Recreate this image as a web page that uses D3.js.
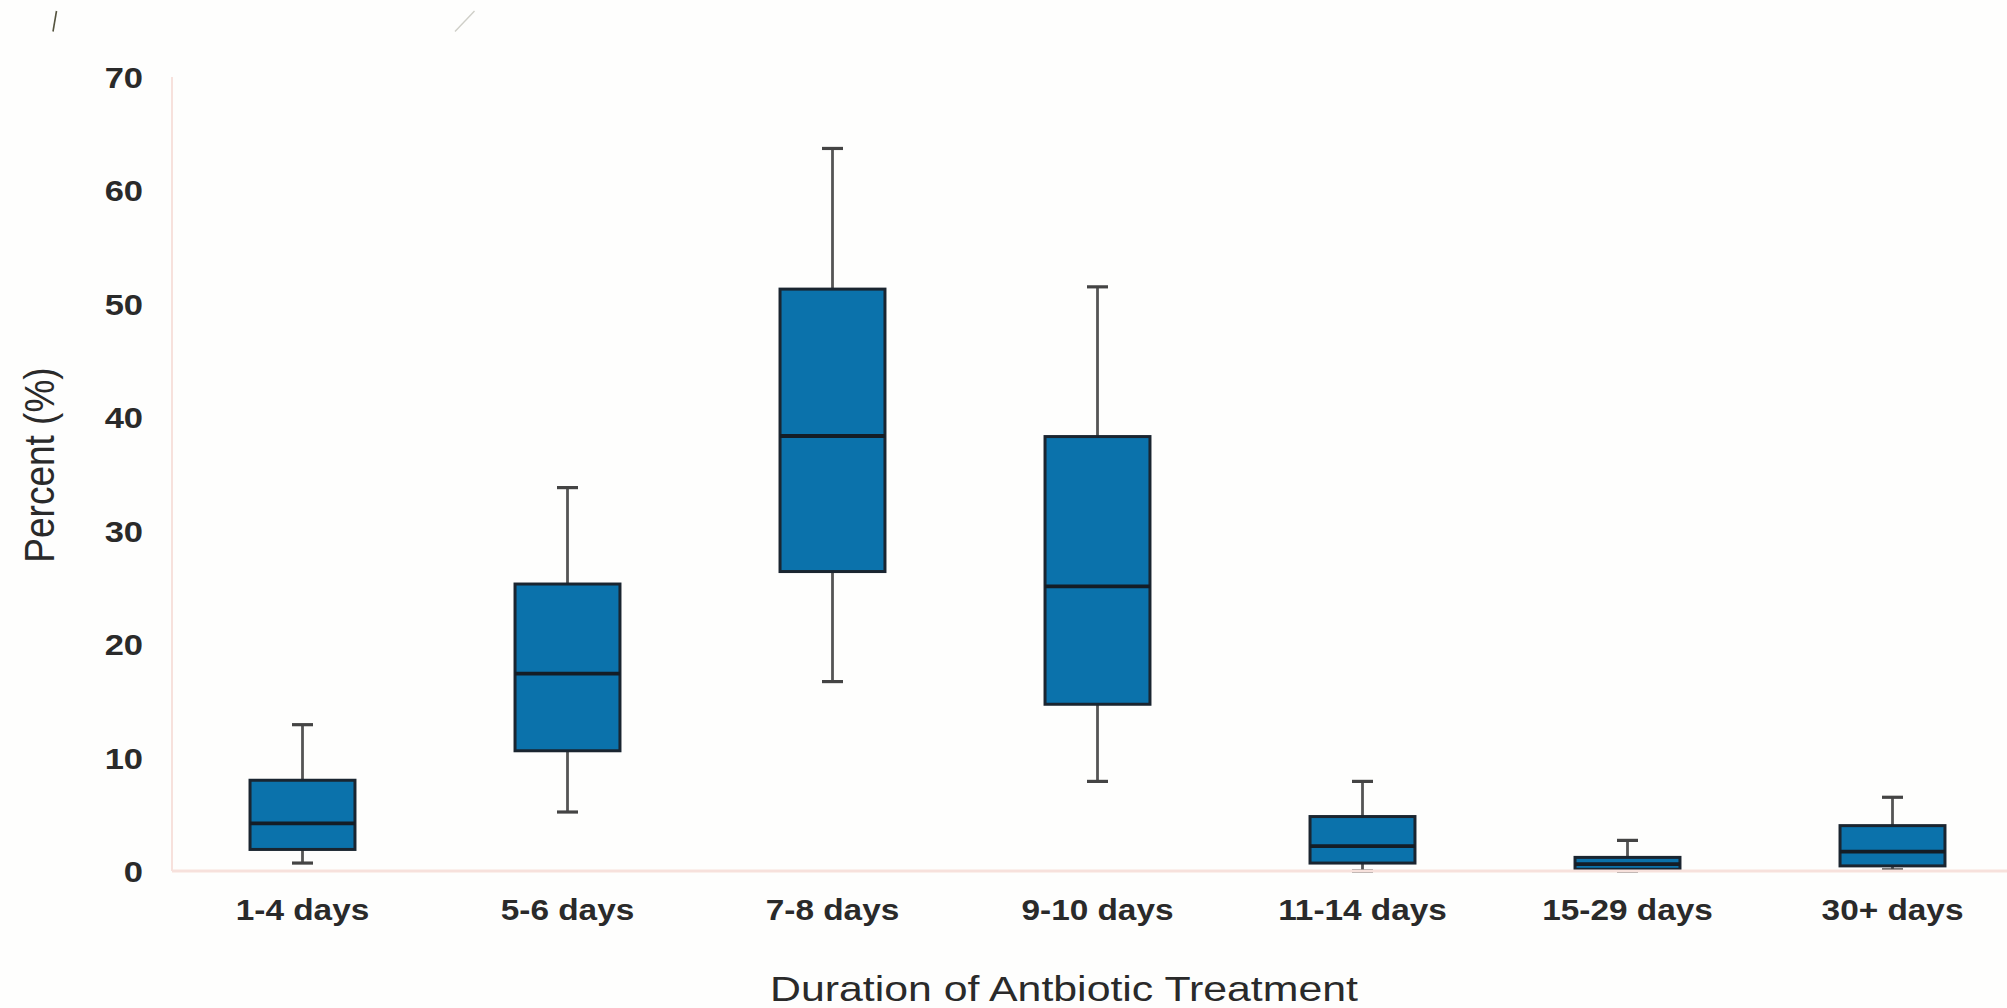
<!DOCTYPE html>
<html>
<head>
<meta charset="utf-8">
<script src="https://cdn.jsdelivr.net/npm/d3@7"></script>
<style>
  html, body { margin: 0; padding: 0; background: #fefefd; }
  svg { display: block; }
  text { font-family: "Liberation Sans", Arial, sans-serif; }
</style>
</head>
<body>
<svg id="chart" width="2007" height="1008"></svg>
<script>
// ---- data ----
const categories  = ["1-4 days", "5-6 days", "7-8 days", "9-10 days", "11-14 days", "15-29 days", "30+ days"];
const whiskerLow  = [0.7, 5.2, 16.7, 7.9, 0.0, 0.0, 0.1];
const q1          = [1.9, 10.6, 26.4, 14.7, 0.7, 0.15, 0.45];
const median      = [4.2, 17.4, 38.35, 25.1, 2.2, 0.6, 1.7];
const q3          = [8.0, 25.3, 51.3, 38.3, 4.8, 1.2, 4.0];
const whiskerHigh = [12.9, 33.8, 63.7, 51.5, 7.9, 2.7, 6.5];
const yTicks      = [0, 10, 20, 30, 40, 50, 60, 70];
const xTitle = "Duration of Antbiotic Treatment";
const yTitle = "Percent (%)";

const rows = categories.map((c, i) => ({
  cat: c, lo: whiskerLow[i], q1: q1[i], med: median[i], q3: q3[i], hi: whiskerHigh[i]
}));

const svg = d3.select("#chart");
const STRETCH = 1.15;

svg.append("rect").attr("width", 2007).attr("height", 1008).attr("fill", "#fefefd");

// small stray marks at top-left of the reference image
svg.append("line").attr("x1", 53).attr("y1", 31.5).attr("x2", 56.5).attr("y2", 11)
  .attr("stroke", "#55543f").attr("stroke-width", 1.6);
svg.append("line").attr("x1", 455).attr("y1", 31.5).attr("x2", 474.5).attr("y2", 11)
  .attr("stroke", "#cfcfc8").attr("stroke-width", 1.4);

const axisX = 172;
const x = d3.scaleBand().domain(categories).range([170, 2025]).paddingInner(0).paddingOuter(0);
const y = d3.scaleLinear().domain([0, 70]).range([871, 77]);

const boxW = x.bandwidth() * 0.396;
const capW = 21;

const g = svg.append("g");
const box = g.selectAll("g.box").data(rows).join("g").attr("class", "box")
  .attr("transform", d => `translate(${x(d.cat) + x.bandwidth() / 2},0)`);

// whiskers
box.append("line").attr("x1", 0).attr("x2", 0)
  .attr("y1", d => y(d.hi)).attr("y2", d => y(d.q3))
  .attr("stroke", "#555").attr("stroke-width", 2.8);
box.append("line").attr("x1", 0).attr("x2", 0)
  .attr("y1", d => y(d.q1)).attr("y2", d => y(d.lo))
  .attr("stroke", "#555").attr("stroke-width", 2.8);
// caps
box.append("line").attr("x1", -capW / 2).attr("x2", capW / 2)
  .attr("y1", d => y(d.hi)).attr("y2", d => y(d.hi))
  .attr("stroke", "#444").attr("stroke-width", 3.2);
box.append("line").attr("x1", -capW / 2).attr("x2", capW / 2)
  .attr("y1", d => y(d.lo)).attr("y2", d => y(d.lo))
  .attr("stroke", "#444").attr("stroke-width", 3.2);
// boxes
box.append("rect")
  .attr("x", -boxW / 2).attr("width", boxW)
  .attr("y", d => y(d.q3)).attr("height", d => y(d.q1) - y(d.q3))
  .attr("fill", "#0b72ab").attr("stroke", "#1a2530").attr("stroke-width", 3);
// medians
box.append("line").attr("x1", -boxW / 2).attr("x2", boxW / 2)
  .attr("y1", d => y(d.med)).attr("y2", d => y(d.med))
  .attr("stroke", "#141d26").attr("stroke-width", 3.8);

// axis lines (drawn on top, light pink)
svg.append("line").attr("x1", axisX).attr("x2", axisX).attr("y1", y(70)).attr("y2", y(0))
  .attr("stroke", "#f7e1dc").attr("stroke-width", 2);
svg.append("line").attr("x1", axisX).attr("x2", 2007).attr("y1", y(0)).attr("y2", y(0))
  .attr("stroke", "#f7e1dc").attr("stroke-width", 3);

// y axis tick labels
const yAxis = svg.append("g").attr("transform", `translate(${axisX},0)`)
  .call(d3.axisLeft(y).tickValues(yTicks).tickSize(0).tickPadding(0).tickFormat(d3.format("d")));
yAxis.select(".domain").remove();
yAxis.selectAll("text")
  .attr("x", -29 / STRETCH).attr("dy", "0.35em")
  .attr("transform", `scale(${STRETCH},1)`)
  .attr("font-size", 30).attr("font-weight", "bold")
  .attr("font-family", "'Liberation Sans', Arial, sans-serif")
  .attr("fill", "#2a2a2a");

// x axis tick labels
const xAxis = svg.append("g").attr("transform", `translate(0,${y(0)})`)
  .call(d3.axisBottom(x).tickSize(0).tickPadding(0));
xAxis.select(".domain").remove();
xAxis.selectAll("text")
  .attr("y", 49).attr("dy", 0)
  .attr("transform", `scale(${STRETCH},1)`)
  .attr("font-size", 29).attr("font-weight", "bold")
  .attr("font-family", "'Liberation Sans', Arial, sans-serif")
  .attr("fill", "#2a2a2a");

// axis titles
svg.append("text")
  .attr("x", 1064).attr("y", 1001)
  .attr("text-anchor", "middle")
  .attr("font-size", 35)
  .attr("textLength", 588).attr("lengthAdjust", "spacingAndGlyphs")
  .attr("fill", "#2a2a2a")
  .text(xTitle);

svg.append("text")
  .attr("transform", `translate(54,465) scale(1.17,1) rotate(-90)`)
  .attr("text-anchor", "middle")
  .attr("font-size", 37)
  .attr("fill", "#2a2a2a")
  .text(yTitle);
</script>
</body>
</html>
